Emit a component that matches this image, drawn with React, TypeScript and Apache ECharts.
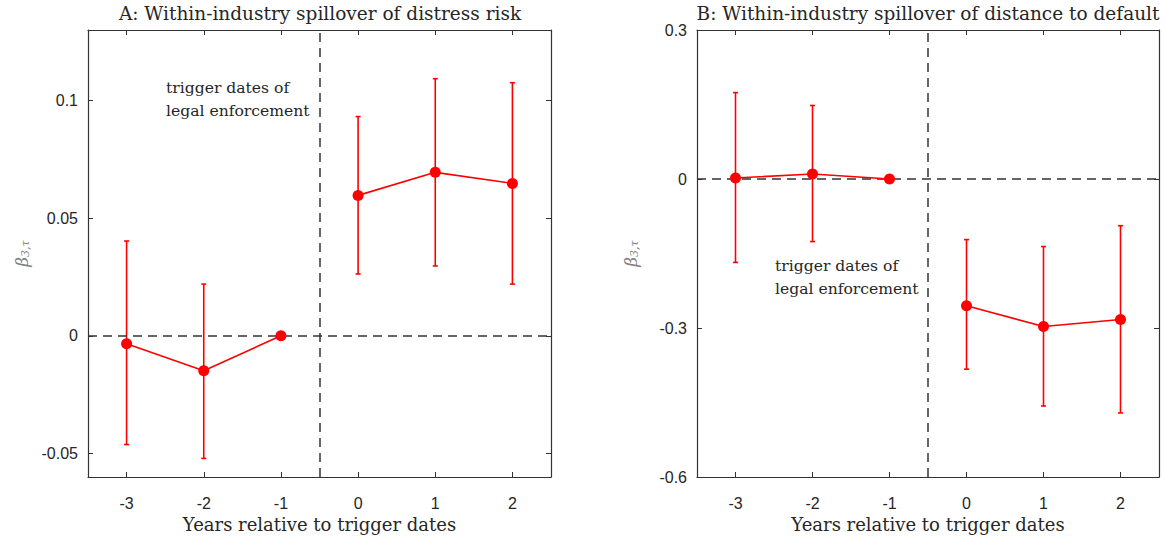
import React, { useEffect, useRef } from "react";
import * as echarts from "echarts";

const years = [-3, -2, -1, 0, 1, 2];
const estA = [-0.0034, -0.0148, 0, 0.0597, 0.0695, 0.0648];
const lowA = [-0.0462, -0.0521, null, 0.0263, 0.0297, 0.022];
const highA = [0.0403, 0.022, null, 0.0932, 0.1093, 0.1076];
const estB = [0.002, 0.01, 0, -0.255, -0.297, -0.283];
const lowB = [-0.168, -0.126, null, -0.383, -0.457, -0.471];
const highB = [0.174, 0.148, null, -0.122, -0.136, -0.094];
const ticksA = [-0.05, 0, 0.05, 0.1];
const ticksB = [-0.6, -0.3, 0, 0.3];
const titleA = "A: Within-industry spillover of distress risk";
const titleB = "B: Within-industry spillover of distance to default";
const xName = "Years relative to trigger dates";
const noteLines = ["trigger dates of", "legal enforcement"];
const eventLine = -0.5;

const SERIF = "'DejaVu Serif', 'Liberation Serif', serif";
const SANS = "'Liberation Sans', Arial, sans-serif";
const AX = "#333333";
const RED = "#ff0000";
const TXT = "#262626";

function fmt(v: number) {
  return String(Math.round(v * 1000) / 1000);
}

function xAxes(grid: number) {
  const base = {
    gridIndex: grid,
    type: "value",
    min: -3.5,
    max: 2.5,
    splitLine: { show: false },
    axisLine: { show: true, onZero: false, lineStyle: { color: AX, width: 1.2 } },
    axisTick: { show: true, inside: true, length: 5, customValues: years, lineStyle: { color: AX } },
  };
  return [
    {
      ...base,
      position: "bottom",
      name: xName,
      nameLocation: "middle",
      nameGap: 38,
      nameTextStyle: { fontFamily: SERIF, fontSize: 18, color: TXT },
      axisLabel: { show: true, customValues: years, fontFamily: SANS, fontSize: 16, color: TXT, margin: 18, formatter: fmt },
    },
    { ...base, position: "top", axisLabel: { show: false } },
  ];
}

function yAxes(grid: number, min: number, max: number, ticks: number[]) {
  const base = {
    gridIndex: grid,
    type: "value",
    min,
    max,
    splitLine: { show: false },
    axisLine: { show: true, onZero: false, lineStyle: { color: AX, width: 1.2 } },
    axisTick: { show: true, inside: true, length: 5, customValues: ticks, lineStyle: { color: AX } },
  };
  return [
    {
      ...base,
      position: "left",
      name: "{b|β}{s|3,τ}",
      nameLocation: "middle",
      nameRotate: 90,
      nameGap: 57,
      nameTextStyle: {
        rich: {
          b: { fontFamily: SERIF, fontStyle: "italic", fontSize: 17, color: "#808080" },
          s: { fontFamily: SERIF, fontStyle: "italic", fontSize: 11, color: "#808080", padding: [8, 0, 0, 0] },
        },
      },
      axisLabel: { show: true, customValues: ticks, fontFamily: SANS, fontSize: 16, color: TXT, margin: 10, formatter: fmt },
    },
    { ...base, position: "right", axisLabel: { show: false } },
  ];
}

function errorBars(xi: number, yi: number, lows: (number | null)[], highs: (number | null)[]) {
  const data: number[][] = [];
  years.forEach((x, i) => {
    const lo = lows[i];
    const hi = highs[i];
    if (lo !== null && hi !== null) data.push([x, lo, hi]);
  });
  return {
    type: "custom",
    xAxisIndex: xi,
    yAxisIndex: yi,
    z: 4,
    silent: true,
    data,
    renderItem: (params: any, api: any) => {
      const x = api.value(0);
      const lo = api.coord([x, api.value(1)]);
      const hi = api.coord([x, api.value(2)]);
      const w = 2.5;
      const style = { stroke: RED, lineWidth: 1.6 };
      return {
        type: "group",
        children: [
          { type: "line", shape: { x1: lo[0], y1: lo[1], x2: hi[0], y2: hi[1] }, style },
          { type: "line", shape: { x1: lo[0] - w, y1: lo[1], x2: lo[0] + w, y2: lo[1] }, style },
          { type: "line", shape: { x1: hi[0] - w, y1: hi[1], x2: hi[0] + w, y2: hi[1] }, style },
        ],
      };
    },
  };
}

function estSeries(xi: number, yi: number, est: number[], after: boolean) {
  const data: number[][] = [];
  years.forEach((x, i) => {
    if ((x > eventLine) === after) data.push([x, est[i]]);
  });
  return {
    type: "line",
    xAxisIndex: xi,
    yAxisIndex: yi,
    z: 5,
    silent: true,
    data,
    symbol: "circle",
    symbolSize: 11,
    itemStyle: { color: RED },
    lineStyle: { color: RED, width: 1.6 },
  };
}

function refLines(xi: number, yi: number) {
  return {
    type: "line",
    xAxisIndex: xi,
    yAxisIndex: yi,
    z: 2,
    silent: true,
    data: [],
    markLine: {
      silent: true,
      symbol: ["none", "none"],
      label: { show: false },
      lineStyle: { color: AX, width: 1.5, type: [9, 6] },
      data: [{ yAxis: 0 }, { xAxis: eventLine }],
    },
  };
}

function noteTexts(xLeft: number, yFirst: number) {
  return noteLines.map((t, i) => ({
    type: "text",
    x: xLeft,
    y: yFirst + i * 23,
    style: { text: t, font: `15.6px ${SERIF}`, fill: TXT, align: "left", verticalAlign: "middle" },
  }));
}

export default function App() {
  const ref = useRef<HTMLDivElement>(null);
  useEffect(() => {
    if (!ref.current) return;
    const chart = echarts.init(ref.current, null, { renderer: "svg" });
    chart.setOption({
      animation: false,
      backgroundColor: "#ffffff",
      grid: [
        { left: 88, top: 30, width: 463, height: 447 },
        { left: 697, top: 30, width: 462, height: 447 },
      ],
      xAxis: [...xAxes(0), ...xAxes(1)],
      yAxis: [...yAxes(0, -0.06, 0.13, ticksA), ...yAxes(1, -0.6, 0.3, ticksB)],
      series: [
        refLines(0, 0),
        errorBars(0, 0, lowA, highA),
        estSeries(0, 0, estA, false),
        estSeries(0, 0, estA, true),
        refLines(2, 2),
        errorBars(2, 2, lowB, highB),
        estSeries(2, 2, estB, false),
        estSeries(2, 2, estB, true),
      ],
      graphic: [
        { type: "text", x: 320, y: 13, style: { text: titleA, font: `18.5px ${SERIF}`, fill: TXT, align: "center", verticalAlign: "middle" } },
        { type: "text", x: 928, y: 13, style: { text: titleB, font: `18.5px ${SERIF}`, fill: TXT, align: "center", verticalAlign: "middle" } },
        ...noteTexts(166, 88),
        ...noteTexts(775, 266),
      ],
    });
    return () => chart.dispose();
  }, []);
  return <div ref={ref} style={{ position: "fixed", left: 0, top: 0, width: 1164, height: 542 }} />;
}
